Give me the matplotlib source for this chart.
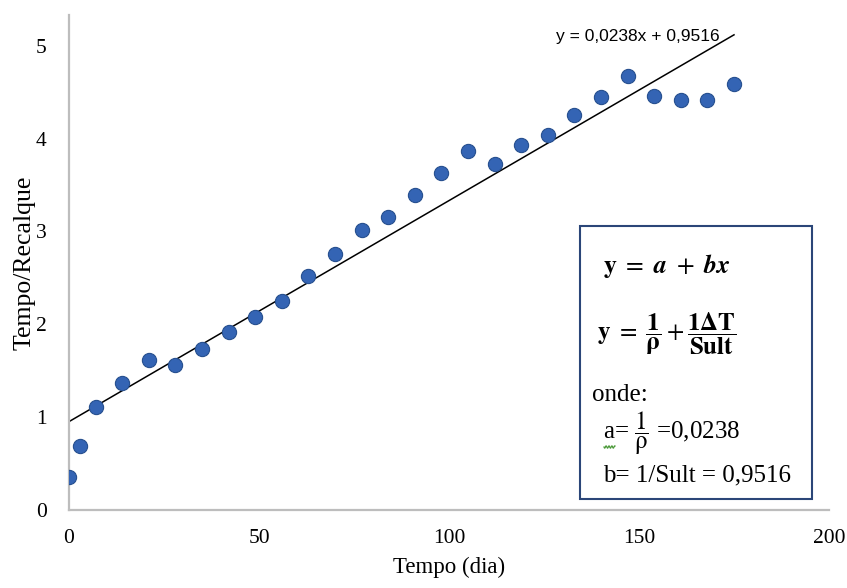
import matplotlib
matplotlib.use("Agg")
import matplotlib.pyplot as plt
import numpy as np
from matplotlib.patches import Rectangle
from matplotlib.lines import Line2D

# Observation days and time/settlement ratio
dias = [0, 3, 7, 14, 21, 28, 35, 42, 49, 56, 63, 70, 77, 84, 91, 98,
        105, 112, 119, 126, 133, 140, 147, 154, 161, 168, 175]
razao = [0.36, 0.69, 1.11, 1.37, 1.61, 1.56, 1.73, 1.92, 2.08, 2.25, 2.52,
         2.76, 3.02, 3.15, 3.39, 3.63, 3.87, 3.73, 3.93, 4.04, 4.25, 4.45,
         4.67, 4.46, 4.42, 4.42, 4.59]

# Linear fit coefficients
inclinacao = 0.0238
intercepto = 0.9516

x_ticks = [0, 50, 100, 150, 200]
y_ticks = [0, 1, 2, 3, 4, 5]

W, H = 847, 588
plt.rcParams["mathtext.fontset"] = "stix"
fig = plt.figure(figsize=(W / 100, H / 100), dpi=100)
ax = fig.add_axes([69 / W, 1 - 510 / H, 760 / W, 495 / H])

serif = "Liberation Serif"

ax.scatter(dias, razao, s=105, color="#3464b4", edgecolor="#27508f",
           linewidth=0.8, zorder=3)
x_fit = [0, max(dias)]
y_fit = [intercepto + inclinacao * v for v in x_fit]
ax.plot(x_fit, y_fit, color="black", lw=1.1, zorder=2)

ax.set_xlim(0, 200)
ax.set_ylim(0, 5.33)
ax.set_xticks(x_ticks)
ax.set_yticks(y_ticks)
ax.set_xticklabels([str(v) for v in x_ticks], fontfamily=serif, fontsize=15.5)
ax.set_yticklabels([str(v) for v in y_ticks], fontfamily=serif, fontsize=15.5)
ax.tick_params(axis="both", length=0)
ax.tick_params(axis="x", pad=14)
ax.tick_params(axis="y", pad=16)

for side in ("top", "right"):
    ax.spines[side].set_visible(False)
for side in ("left", "bottom"):
    ax.spines[side].set_color("#bdbdbd")
    ax.spines[side].set_linewidth(1.6)

ax.set_xlabel("Tempo (dia)", fontfamily=serif, fontsize=16.5, labelpad=6)
ax.set_ylabel("Tempo/Recalque", fontfamily=serif, fontsize=18.5, labelpad=0)

# Trendline equation
fig.text(720 / W, 1 - 36 / H,
         f"y = {str(inclinacao).replace('.', ',')}x + {str(intercepto).replace('.', ',')}",
         ha="right", va="center", fontfamily="Liberation Sans", fontsize=12.5)

# Explanatory box
box = Rectangle((580 / W, 1 - 499 / H), 232 / W, 273 / H,
                transform=fig.transFigure, fill=False,
                edgecolor="#2b4678", linewidth=1.5)
fig.add_artist(box)

fig.text(603 / W, 1 - 266 / H,
         r"$\mathbf{y}\ =\ \mathbfit{a}\ +\ \mathbfit{bx}$",
         ha="left", va="center", fontsize=18.5)
fig.text(597 / W, 1 - 334 / H,
         r"$\mathbf{y}\ =\ \dfrac{\mathbf{1}}{\mathbf{ρ}} + \dfrac{\mathbf{1\Delta T}}{\mathbf{Sult}}$",
         ha="left", va="center", fontsize=18)
fig.text(592 / W, 1 - 395 / H, "onde:", ha="left", va="center",
         fontfamily=serif, fontsize=18)
fig.text(603 / W, 1 - 433 / H,
         r"a= $\dfrac{1}{\mathrm{ρ}}$ =" + str(inclinacao).replace(".", ","),
         ha="left", va="center", fontfamily=serif, fontsize=18)
fig.text(603 / W, 1 - 475 / H,
         "b= 1/Sult = " + str(intercepto).replace(".", ","),
         ha="left", va="center", fontfamily=serif, fontsize=18)

# Spell-check squiggle under the "a"
sx = np.linspace(604, 615, 23)
sy = 447 + 1.2 * np.sin((sx - 604) * 2.2)
fig.add_artist(Line2D(sx / W, 1 - sy / H, transform=fig.transFigure,
                      color="#4c9a3a", lw=0.9))

fig.savefig("out.png", dpi=100, facecolor="white")
